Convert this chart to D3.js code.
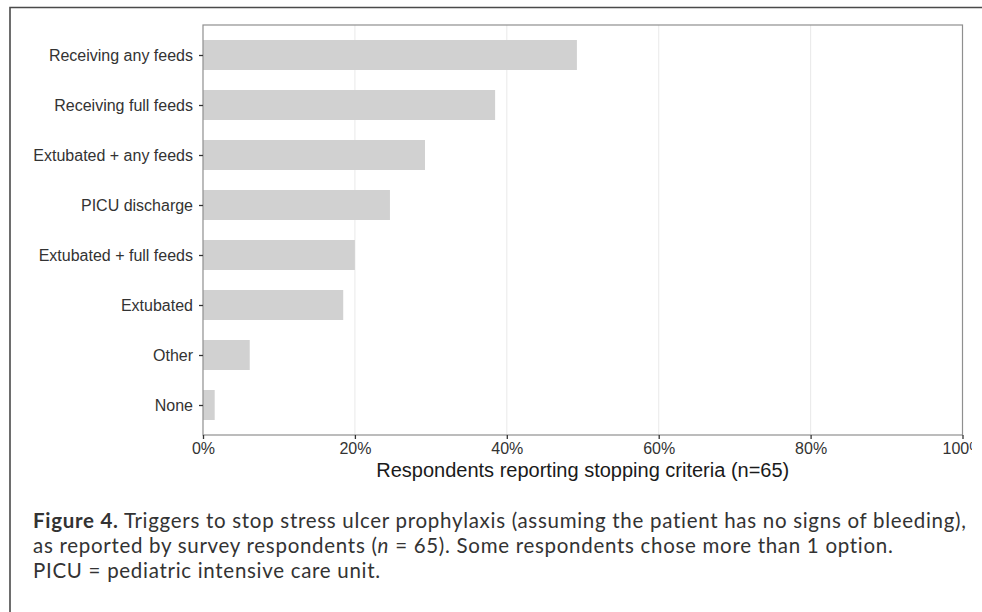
<!DOCTYPE html>
<html>
<head>
<meta charset="utf-8">
<script src="https://cdn.jsdelivr.net/npm/d3@7"></script>
<style>
  html, body { margin: 0; padding: 0; background: #fff; }
  svg { display: block; }
</style>
</head>
<body>
<svg id="chart" width="982" height="612"></svg>
<script>
// ---- data ----
const categories = [
  "Receiving any feeds",
  "Receiving full feeds",
  "Extubated + any feeds",
  "PICU discharge",
  "Extubated + full feeds",
  "Extubated",
  "Other",
  "None"
];
const counts = [32, 25, 19, 16, 13, 12, 4, 1];
const totalRespondents = 65;
const xTicks = [0, 0.2, 0.4, 0.6, 0.8, 1.0];
const xTitle = "Respondents reporting stopping criteria (n=65)";
const captionLines = [
  [{t: "Figure 4.", b: true}, {t: " Triggers to stop stress ulcer prophylaxis (assuming the patient has no signs of bleeding),"}],
  [{t: "as reported by survey respondents ("}, {t: "n", i: true}, {t: " = 65). Some respondents chose more than 1 option."}],
  [{t: "PICU = pediatric intensive care unit."}]
];

// ---- layout ----
const svg = d3.select("#chart");
const panel = {left: 203, right: 962.5, top: 25, bottom: 435};

const x = d3.scaleLinear().domain([0, 1]).range([panel.left, panel.right]);
const y = d3.scalePoint().domain(categories).range([panel.top, panel.bottom]).padding(0.6);
const barH = y.step() * 0.6;

// outer frame (top and left edges)
svg.append("path")
  .attr("d", "M10,612 L10,7.5 L982,7.5")
  .attr("fill", "none").attr("stroke", "#4a4a4a").attr("stroke-width", 1.6);

// vertical gridlines
svg.append("g").selectAll("line")
  .data(xTicks.filter(d => d > 0 && d < 1))
  .join("line")
  .attr("x1", d => x(d)).attr("x2", d => x(d))
  .attr("y1", panel.top).attr("y2", panel.bottom)
  .attr("stroke", "#ebebeb").attr("stroke-width", 1.1);

// bars
svg.append("g").selectAll("rect")
  .data(categories.map((c, i) => ({c, v: counts[i] / totalRespondents})))
  .join("rect")
  .attr("x", x(0))
  .attr("y", d => y(d.c) - barH / 2)
  .attr("width", d => x(d.v) - x(0))
  .attr("height", barH)
  .attr("fill", "#d1d1d1");

// panel border
svg.append("rect")
  .attr("x", panel.left).attr("y", panel.top)
  .attr("width", panel.right - panel.left).attr("height", panel.bottom - panel.top)
  .attr("fill", "none").attr("stroke", "#8f8f8f").attr("stroke-width", 1.2);

// clip for x-axis labels (right edge cut in reference)
svg.append("defs").append("clipPath").attr("id", "xclip")
  .append("rect").attr("x", 0).attr("y", 0).attr("width", 972).attr("height", 612);

// y axis
const yAxis = d3.axisLeft(y).tickSize(4).tickPadding(6);
const gy = svg.append("g").attr("transform", `translate(${panel.left},0)`).call(yAxis);
gy.select(".domain").remove();
gy.selectAll(".tick line").attr("stroke", "#333").attr("stroke-width", 1.3);
gy.selectAll(".tick text")
  .attr("font-family", "Liberation Sans, Arial, Helvetica, sans-serif")
  .attr("font-size", 16).attr("fill", "#333");

// x axis
const xAxis = d3.axisBottom(x).tickValues(xTicks).tickFormat(d3.format(".0%")).tickSize(4).tickPadding(4);
const gx = svg.append("g").attr("transform", `translate(0,${panel.bottom})`)
  .attr("clip-path", "url(#xclip)").call(xAxis);
gx.select(".domain").remove();
gx.selectAll(".tick line").attr("stroke", "#333").attr("stroke-width", 1.3);
gx.selectAll(".tick text")
  .attr("font-family", "Liberation Sans, Arial, Helvetica, sans-serif")
  .attr("font-size", 16).attr("fill", "#333");

// x title
svg.append("text")
  .attr("x", (panel.left + panel.right) / 2).attr("y", 477)
  .attr("text-anchor", "middle")
  .attr("font-family", "Liberation Sans, Arial, Helvetica, sans-serif")
  .attr("font-size", 20).attr("fill", "#1a1a1a")
  .text(xTitle);

// caption
const capX = 33, capY = 528, capLead = 25, capLine1Width = 934, capMaxSize = 20.5;
const cap = svg.append("text")
  .attr("font-family", "Lato, Open Sans, sans-serif")
  .attr("font-size", 20).attr("fill", "#333");
captionLines.forEach((parts, i) => {
  const line = cap.append("tspan").attr("x", capX).attr("y", capY + i * capLead);
  parts.forEach(p => {
    line.append("tspan")
      .attr("font-weight", p.b ? 700 : 400)
      .attr("font-style", p.i ? "italic" : "normal")
      .text(p.t);
  });
});
// fit line 1 width: scale font (capped) then letter-spacing for the rest
const line1 = cap.select("tspan").node();
let w1 = line1.getComputedTextLength();
let fs = Math.min(capMaxSize, 20 * capLine1Width / w1);
cap.attr("font-size", fs);
w1 = line1.getComputedTextLength();
const nChars = captionLines[0].map(p => p.t).join("").length;
if (w1 < capLine1Width - 2) cap.attr("letter-spacing", (capLine1Width - w1) / nChars);
</script>
</body>
</html>
